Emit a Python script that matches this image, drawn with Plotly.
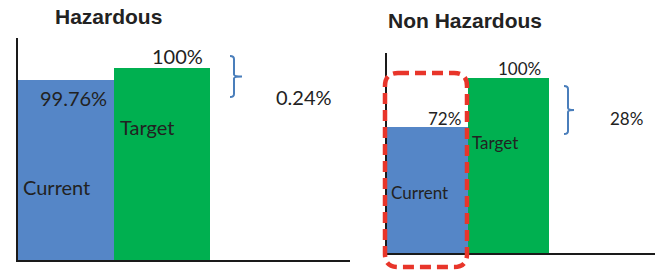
import plotly.graph_objects as go

# ---- data ----
categories = ["Current", "Target"]
haz_values = [99.76, 100]
nonhaz_values = [72, 100]
haz_gap_label = "0.24%"
nonhaz_gap_label = "28%"
haz_value_labels = ["99.76%", "100%"]
nonhaz_value_labels = ["72%", "100%"]
titles = ["Hazardous", "Non Hazardous"]

BLUE = "#5586C7"
GREEN = "#00B050"
BRACE = "#4A7EBB"
TXT = "#222222"
W, H = 655, 272

def px(x):
    return x / W

def py(y):
    return 1 - y / H

fig = go.Figure()
xs = [0, 1]
fig.add_trace(go.Bar(x=xs, y=haz_values, marker=dict(color=[BLUE, GREEN], line=dict(width=0)),
                     width=1, xaxis="x", yaxis="y", hoverinfo="skip", showlegend=False))
fig.add_trace(go.Bar(x=xs, y=nonhaz_values, marker=dict(color=[BLUE, GREEN], line=dict(width=0)),
                     width=1, xaxis="x2", yaxis="y2", hoverinfo="skip", showlegend=False))

axis_common = dict(showgrid=False, zeroline=False, showticklabels=False, ticks="",
                   showline=True, linecolor="#1a1a1a", linewidth=2, fixedrange=True)

fig.update_layout(
    width=W, height=H, margin=dict(l=0, r=0, t=0, b=0),
    paper_bgcolor="white", plot_bgcolor="rgba(0,0,0,0)", bargap=0,
    xaxis=dict(domain=[px(18), px(350)], range=[-0.5, 2.95], **axis_common),
    yaxis=dict(domain=[py(260), py(38)], range=[96.16, 100.6], anchor="x", **axis_common),
    xaxis2=dict(domain=[px(387), 1], range=[-0.506, 2.82], anchor="y2", **axis_common),
    yaxis2=dict(domain=[py(253), py(53)], range=[0, 114.3], anchor="x2", **axis_common),
)

LAB = "Lato"
ann = []
tfont = dict(family="Liberation Sans, Arial", size=21, color=TXT)
ann.append(dict(text="<b>" + titles[0] + "</b>", x=px(108), y=py(16), xref="paper", yref="paper",
                xanchor="center", yanchor="middle", showarrow=False, font=tfont))
ann.append(dict(text="<b>" + titles[1] + "</b>", x=px(465), y=py(21), xref="paper", yref="paper",
                xanchor="center", yanchor="middle", showarrow=False, font=tfont))

f1 = dict(family=LAB, size=20, color=TXT)
f2 = dict(family=LAB, size=17, color=TXT)
def lab(text, x, y, xr, yr, anchor, font):
    return dict(text=text, x=x, y=y, xref=xr, yref=yr, xanchor=anchor, yanchor="middle",
                showarrow=False, font=font)

ann += [
    lab(haz_value_labels[1], 1.44, 100.24, "x", "y", "right", f1),
    lab(haz_value_labels[0], 0.45, 99.4, "x", "y", "right", f1),
    lab(categories[1], 0.54, 98.82, "x", "y", "left", f1),
    lab(categories[0], -0.47, 97.62, "x", "y", "left", f1),
    lab(haz_gap_label, 2.16, 99.42, "x", "y", "left", f1),
    lab(nonhaz_value_labels[1], 1.43, 105.7, "x2", "y2", "right", f2),
    lab(nonhaz_value_labels[0], 0.438, 77.1, "x2", "y2", "right", f2),
    lab(categories[1], 0.525, 62.9, "x2", "y2", "left", f2),
    lab(categories[0], -0.48, 34.3, "x2", "y2", "left", f2),
    lab(nonhaz_gap_label, 2.239, 77.1, "x2", "y2", "left", f2),
]
fig.update_layout(annotations=ann)

def brace(x0, y0, y1, tip):
    xm = x0 + 4
    ym = (y0 + y1) / 2
    P = lambda x, y: f"{px(x):.5f},{py(y):.5f}"
    return (f"M {P(x0, y0)} Q {P(xm, y0)} {P(xm, y0 + 3)} L {P(xm, ym - 2)} Q {P(xm, ym)} {P(tip, ym)} "
            f"M {P(tip, ym)} Q {P(xm, ym)} {P(xm, ym + 2)} L {P(xm, y1 - 3)} Q {P(xm, y1)} {P(x0, y1)}")

shapes = [
    dict(type="path", path=brace(230, 56, 97, 242), xref="paper", yref="paper",
         line=dict(color=BRACE, width=2)),
    dict(type="path", path=brace(564, 86, 134, 574), xref="paper", yref="paper",
         line=dict(color=BRACE, width=2)),
]

x0, x1, y0, y1, r = 385, 467, 73, 267, 13
P = lambda x, y: f"{px(x):.5f},{py(y):.5f}"
rr = (f"M {P(x0 + r, y0)} L {P(x1 - r, y0)} Q {P(x1, y0)} {P(x1, y0 + r)} L {P(x1, y1 - r)} "
      f"Q {P(x1, y1)} {P(x1 - r, y1)} L {P(x0 + r, y1)} Q {P(x0, y1)} {P(x0, y1 - r)} "
      f"L {P(x0, y0 + r)} Q {P(x0, y0)} {P(x0 + r, y0)} Z")
shapes.append(dict(type="path", path=rr, xref="paper", yref="paper",
                   line=dict(color="#E8352A", width=4.5, dash="11px,6px")))
fig.update_layout(shapes=shapes)

fig.write_html("out.html", config={"displayModeBar": False},
               post_script="document.body.style.margin='0';document.body.style.padding='0';")
